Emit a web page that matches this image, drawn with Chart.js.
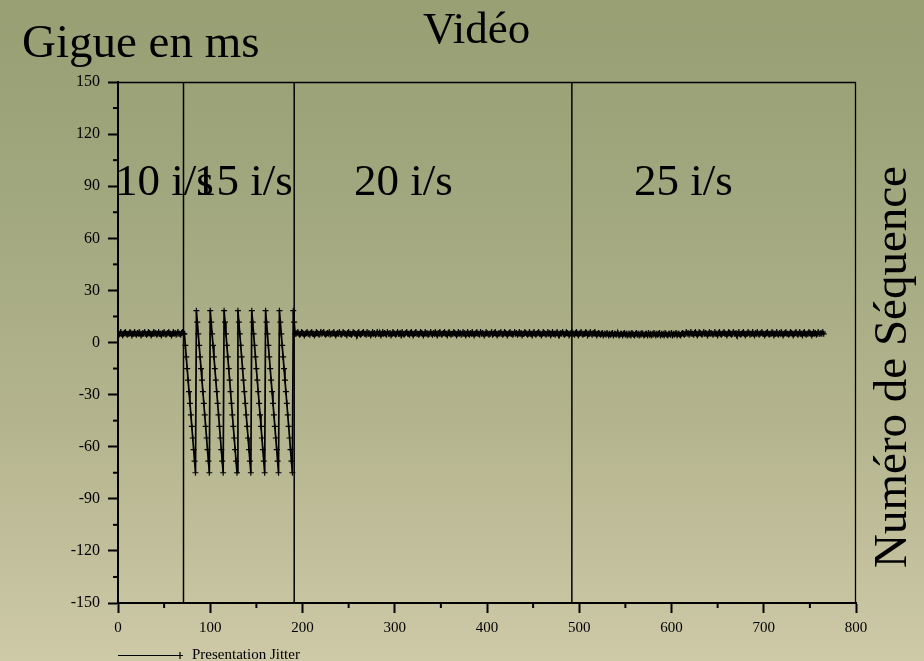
<!DOCTYPE html>
<html>
<head>
<meta charset="utf-8">
<script src="https://cdn.jsdelivr.net/npm/chart.js@4.4.1/dist/chart.umd.min.js"></script>
<style>
  html, body { margin: 0; padding: 0; background: #b0b28c; }
  canvas { display: block; }
</style>
</head>
<body>
<canvas id="c" width="924" height="661" style="width:924px;height:661px"></canvas>
<script>
// Presentation jitter (ms) per frame sequence number.
// 10 frames/s section, sequence numbers starting at 0
const jitter10Start = 0;
const jitter10 = [
  5,4.5,5,6,5,4,5,5.5,6,5, 4.5,5,5,6,5.5,4,5,5,6,5, 4.5,5.5,5,6,5,4,5,5.5,5,6,
  5,4.5,5,6,5.5,5,4,5,5,6, 5,5.5,4.5,5,6,5,5,4,5.5,5, 6,5,4.5,5,5.5,6,5,5,4,5,
  6,5,5.5,4.5,5,6,5,5,4.5,5.5,6,5
];

// 15 frames/s section: sawtooth jitter
const jitter15Start = 72;
const jitter15 = [
  5,-1.7,-8.3,-15,-21.7,-28.3,-35,-41.7,-48.3,-55,-61.7,-68.3,-75,
  18.3,11.7,5,-1.7,-8.3,-15,-21.7,-28.3,-35,-41.7,-48.3,-55,-61.7,-68.3,-75,
  18.3,11.7,5,-1.7,-8.3,-15,-21.7,-28.3,-35,-41.7,-48.3,-55,-61.7,-68.3,-75,
  18.3,11.7,5,-1.7,-8.3,-15,-21.7,-28.3,-35,-41.7,-48.3,-55,-61.7,-68.3,-75,
  18.3,11.7,5,-1.7,-8.3,-15,-21.7,-28.3,-35,-41.7,-48.3,-55,-61.7,-68.3,-75,
  18.3,11.7,5,-1.7,-8.3,-15,-21.7,-28.3,-35,-41.7,-48.3,-55,-61.7,-68.3,-75,
  18.3,11.7,5,-1.7,-8.3,-15,-21.7,-28.3,-35,-41.7,-48.3,-55,-61.7,-68.3,-75,
  18.3,11.7,5,-1.7,-8.3,-15,-21.7,-28.3,-35,-41.7,-48.3,-55,-61.7,-68.3,-75,
  18.3,11.7,5
];

// 20 and 25 frames/s sections
const jitter20and25Start = 193;
const jitter20and25 = [
  5,5.5,6,5,4.5,5,6,5.5,5,4,     5,5.5,6,5,5,4.5,5.5,6,5,5,
  4,5,6,5.5,5,4.5,5,6,5,5.5,     6,5,4.5,5,5.5,5,6,4.5,5,5,
  5.5,6,5,4,5,5.5,5,6,5,4.5,     5,6,5.5,5,5,4,5.5,6,5,5,
  4.5,5,6,5.5,5,5,4,5.5,6,5,     4.5,5,5.5,6,5,5,4.5,6,5,5.5,
  5,4,5,6,5,5.5,4.5,5,6,5,       5,5.5,4,5,6,5,5.5,5,4.5,6,
  5,5,5.5,4,5,6,5.5,5,4.5,5,     6,5,5,5.5,4,6,5,4.5,5,5.5,
  6,5,5,4.5,5.5,6,5,4,5,5.5,     6,5,5,4.5,5,6,5.5,5,4,5,
  6,5,5.5,4.5,5,5,6,5,4.5,5.5,   5,6,5,4,5.5,5,6,5,4.5,5,
  5.5,6,5,5,4,5.5,6,5,4.5,5,     5,6,5.5,5,4,5,6,5,5.5,4.5,
  5,6,5,5.5,4,5,6,5,4.5,5.5,     5,6,5,4,5,5.5,6,5,5,4.5,
  6,5,5.5,5,4,5,6,5.5,5,4.5,     5,5,6,4.5,5,5.5,6,5,4,5,
  5.5,5,6,5,4.5,5,6,5.5,5,4,     5,5.5,6,5,5,4.5,5,6,5,5.5,
  4.5,5,6,5,5.5,4,5,5,6,5.5,     5,4.5,5,6,5,5,4,5.5,6,5,
  4.5,5,5.5,6,5,5,4,5,6,5.5,     5,4.5,5,6,5,5.5,4,5,6,5,
  5,4.5,5.5,6,5,4,5,5.5,5,6,     5,4.5,5,6,5.5,5,4,5,5.5,6,
  5,5,4.5,5.5,6,5,4,5,5.5,6,     5,4.5,5,5,6,5.5,4,5,5,6,
  5,4.5,5.5,5,6,5,4,5,5.5,5,     4.5,5,5.5,4,5,5,4.5,5.5,5,4,
  5,4.5,5,5.5,4,5,5,4.5,5,5.5,   4,4.5,5,5,4,5,5.5,4.5,5,4,
  5,4.5,5,4,5.5,5,4.5,4,5,5.5,   4.5,5,4,5,4.5,5.5,5,4,4.5,5,
  5,4,5.5,4.5,5,4,5,4.5,5.5,5,   4,5,4.5,5,5.5,4,5,4.5,5,4,
  5.5,5,4.5,4,5,5,4.5,5.5,4,5,   4.5,5,5.5,4,5,5,4.5,4,5,5.5,
  5,4.5,5,6,5,5.5,4.5,5,6,5,     5,4.5,5.5,6,5,4,5,6,5.5,5,
  4.5,5,6,5,5.5,5,4,5,6,5,       5.5,5,4.5,5,6,5,5,4,5.5,6,
  5,4.5,5,5.5,6,5,5,4,5,6,       5.5,5,4.5,5,6,5,5,5.5,4,5,
  6,5,4.5,5,5.5,6,5,4,5,5,       6,5.5,4.5,5,5,6,5,4,5.5,5,
  6,5,4.5,5,5.5,6,5,5,4,5,       5.5,6,5,4.5,5,5,6,5.5,4,5,
  5,6,5,4.5,5.5,5,6,5,4,5,       5.5,6,5,5,4.5,5,6,5.5,5,4,
  5,5.5,6,5,4.5,5,6,5,5,4,       5.5,6,5,4.5,5,5,6,5.5,5,4,
  5,6,5,5.5,4.5,5,6,5,5,5.5,
  5,6,5
];

// Sequence numbers where the frame rate changes, and the rate names
const rateBoundaries = [71, 191, 492];
const rateLabels = ['10 i/s', '15 i/s', '20 i/s', '25 i/s'];

// Axis ticks
const xTicks = [0, 100, 200, 300, 400, 500, 600, 700, 800];
const yTicks = [-150, -120, -90, -60, -30, 0, 30, 60, 90, 120, 150];

const seriesName = 'Presentation Jitter';
const yTitle = 'Gigue en ms';
const xTitle = 'Numéro de Séquence';
const chartTitle = 'Vidéo';

const SERIF = '"Liberation Serif", "Times New Roman", Times, serif';

function toPoints(start, values) {
  return values.map((v, i) => ({ x: start + i, y: v }));
}
const points = [].concat(
  toPoints(jitter10Start, jitter10),
  toPoints(jitter15Start, jitter15),
  toPoints(jitter20and25Start, jitter20and25)
);

const decor = {
  id: 'decor',
  beforeDraw(chart) {
    const { ctx, width, height } = chart;
    const g = ctx.createLinearGradient(0, 0, 0, height);
    g.addColorStop(0, '#979f73');
    g.addColorStop(0.3, '#a1a77e');
    g.addColorStop(0.65, '#b4b58f');
    g.addColorStop(1, '#cec9a7');
    ctx.save();
    ctx.fillStyle = g;
    ctx.fillRect(0, 0, width, height);
    ctx.restore();
  },
  beforeDatasetsDraw(chart) {
    const { ctx, chartArea: a, scales } = chart;
    const xs = scales.x, ys = scales.y;
    ctx.save();
    ctx.strokeStyle = '#000';
    // top and right edges of the frame
    ctx.lineWidth = 1.3;
    ctx.beginPath();
    ctx.moveTo(a.left, a.top + 0.5);
    ctx.lineTo(a.right - 0.5, a.top + 0.5);
    ctx.lineTo(a.right - 0.5, a.bottom);
    ctx.stroke();
    // frame-rate section boundaries
    ctx.lineWidth = 1.5;
    rateBoundaries.forEach(b => {
      const px = xs.getPixelForValue(b);
      ctx.beginPath();
      ctx.moveTo(px, a.top);
      ctx.lineTo(px, a.bottom);
      ctx.stroke();
    });
    // minor ticks halfway between the labelled ones
    ctx.lineWidth = 2;
    for (let i = 0; i < xTicks.length - 1; i++) {
      const px = xs.getPixelForValue((xTicks[i] + xTicks[i + 1]) / 2);
      ctx.beginPath();
      ctx.moveTo(px, a.bottom);
      ctx.lineTo(px, a.bottom + 5);
      ctx.stroke();
    }
    for (let i = 0; i < yTicks.length - 1; i++) {
      const py = ys.getPixelForValue((yTicks[i] + yTicks[i + 1]) / 2);
      ctx.beginPath();
      ctx.moveTo(a.left, py);
      ctx.lineTo(a.left - 5, py);
      ctx.stroke();
    }
    ctx.restore();
  },
  afterDraw(chart) {
    const { ctx } = chart;
    ctx.save();
    ctx.fillStyle = '#000';
    ctx.textBaseline = 'alphabetic';

    // axis and chart titles
    ctx.textAlign = 'left';
    ctx.font = '47px ' + SERIF;
    ctx.fillText(yTitle, 22, 57);
    ctx.font = '45px ' + SERIF;
    ctx.fillText(chartTitle, 423, 43);

    // frame-rate section names
    const labelLefts = [115, 194, 354, 634];
    ctx.font = '45px ' + SERIF;
    rateLabels.forEach((t, i) => ctx.fillText(t, labelLefts[i], 195));

    // vertical title on the right
    ctx.save();
    ctx.translate(906, 367);
    ctx.rotate(-Math.PI / 2);
    ctx.textAlign = 'center';
    ctx.font = '47px ' + SERIF;
    ctx.fillText(xTitle, 0, 0);
    ctx.restore();

    // legend
    ctx.strokeStyle = '#000';
    ctx.lineWidth = 1.2;
    ctx.beginPath();
    ctx.moveTo(118, 655.5);
    ctx.lineTo(180, 655.5);
    ctx.moveTo(180, 652);
    ctx.lineTo(180, 659);
    ctx.moveTo(177, 655.5);
    ctx.lineTo(183, 655.5);
    ctx.stroke();
    ctx.font = '15px ' + SERIF;
    ctx.textAlign = 'left';
    ctx.fillText(seriesName, 192, 659);
    ctx.restore();
  }
};

new Chart(document.getElementById('c'), {
  type: 'line',
  data: {
    datasets: [{
      label: seriesName,
      data: points,
      borderColor: '#000',
      borderWidth: 1.7,
      pointStyle: 'cross',
      pointRadius: 3,
      pointBorderWidth: 1.2,
      pointBorderColor: '#000',
      pointHoverRadius: 0,
      tension: 0,
      fill: false
    }]
  },
  options: {
    responsive: false,
    animation: false,
    events: [],
    layout: { padding: { left: 0, top: 82, right: 68, bottom: 0 } },
    plugins: { legend: { display: false }, tooltip: { enabled: false }, title: { display: false } },
    scales: {
      x: {
        type: 'linear',
        min: xTicks[0],
        max: xTicks[xTicks.length - 1],
        afterBuildTicks(s) { s.ticks = xTicks.map(v => ({ value: v })); },
        ticks: { color: '#000', font: { family: SERIF, size: 15 }, padding: 6, maxRotation: 0, autoSkip: false },
        grid: { drawOnChartArea: false, tickLength: 10, tickWidth: 2, tickColor: '#000' },
        border: { color: '#000', width: 2 },
        afterFit(s) { s.height = 58; }
      },
      y: {
        type: 'linear',
        min: yTicks[0],
        max: yTicks[yTicks.length - 1],
        afterBuildTicks(s) { s.ticks = yTicks.map(v => ({ value: v })); },
        ticks: { color: '#000', font: { family: SERIF, size: 16 }, padding: 8, autoSkip: false },
        grid: { drawOnChartArea: false, tickLength: 10, tickWidth: 2, tickColor: '#000' },
        border: { color: '#000', width: 2 },
        afterFit(s) { s.width = 118; }
      }
    }
  },
  plugins: [decor]
});
</script>
</body>
</html>
